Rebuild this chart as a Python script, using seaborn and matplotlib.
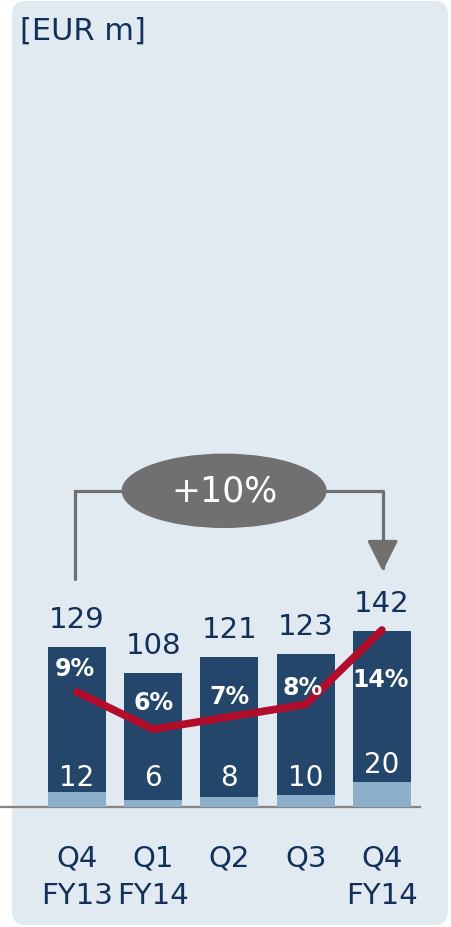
import numpy as np
import pandas as pd
import matplotlib
matplotlib.use('Agg')
import matplotlib.pyplot as plt
import seaborn as sns
from matplotlib.patches import FancyBboxPatch, Ellipse
from matplotlib.transforms import IdentityTransform

# --- DATA ---
quarters = ['Q4\nFY13', 'Q1\nFY14', 'Q2', 'Q3', 'Q4\nFY14']
totals = [129, 108, 121, 123, 142]
segment = [12, 6, 8, 10, 20]
margins = [9, 6, 7, 8, 14]
growth_label = '+10%'
unit_label = '[EUR m]'

df = pd.DataFrame({'quarter': quarters, 'total': totals,
                   'segment': segment, 'margin': margins})

# --- STYLE ---
sns.set_style('white')
plt.rcParams['font.family'] = ['DejaVu Sans']
NAVY_TXT = '#12305A'
NAVY_BAR = '#25466B'
LIGHT_BAR = '#8CB0CC'
PANEL = '#E1E9F1'
RED = '#B30D2C'
GREY = '#707070'

W, H, DPI = 452, 928, 100
fig = plt.figure(figsize=(W / DPI, H / DPI), dpi=DPI, facecolor='white')

# background panel (pixel coords)
panel = FancyBboxPatch((12, 2), 436, 924, boxstyle='round,pad=0,rounding_size=14',
                       transform=IdentityTransform(), facecolor=PANEL,
                       edgecolor='none', zorder=-10)
fig.add_artist(panel)

# axes: x from 0..420 px, y from 120..926 px
ax = fig.add_axes([0 / W, 120 / H, 420 / W, 806 / H])
ax.patch.set_visible(False)

sns.barplot(data=df, x='quarter', y='total', color=NAVY_BAR, width=0.76,
            saturation=1, linewidth=0, edgecolor='none', ax=ax, zorder=2)
sns.barplot(data=df, x='quarter', y='segment', color=LIGHT_BAR, width=0.76,
            saturation=1, linewidth=0, edgecolor='none', ax=ax, zorder=3)
ax.set_xlim(-1.01, 4.5)
ax.set_ylim(0, 650)

for sp in ['top', 'left', 'right']:
    ax.spines[sp].set_visible(False)
ax.spines['bottom'].set_color('#858585')
ax.spines['bottom'].set_linewidth(1.6)
ax.set_yticks([])
ax.set_xlabel('')
ax.set_ylabel('')
ax.tick_params(axis='x', length=0, pad=26, labelsize=21, labelcolor=NAVY_TXT)
for lab in ax.get_xticklabels():
    lab.set_linespacing(1.45)

# value labels
inner_offsets = [30, 30, 30, 30, 43]
for i, (t, s) in enumerate(zip(totals, segment)):
    ax.annotate(str(t), (i, t), xytext=(0, 14), textcoords='offset pixels',
                ha='center', va='bottom', fontsize=21, color=NAVY_TXT)
    ax.annotate(str(s), (i, 0), xytext=(0, inner_offsets[i]),
                textcoords='offset pixels', ha='center', va='center',
                fontsize=20, color='white', zorder=5)

# margin line on twin axis
ax2 = ax.twinx()
ax2.patch.set_visible(False)
sns.lineplot(x=np.arange(len(margins)), y=margins, ax=ax2, color=RED,
             linewidth=5.5, solid_capstyle='round', solid_joinstyle='round',
             zorder=4)
ax2.set_ylim(-0.27, 64.7)
ax2.set_xlim(ax.get_xlim())
ax2.axis('off')

pct_offsets = [(-2, 24), (0, 27), (0, 21), (-3, 17), (-1, -49)]
for i, (m, off) in enumerate(zip(margins, pct_offsets)):
    ax2.annotate(f'{m}%', (i, m), xytext=off, textcoords='offset pixels',
                 ha='center', va='center', fontsize=17, fontweight='bold',
                 color='white', zorder=6)

# growth bubble and connectors
ell = Ellipse((1.93, 255), 2.69, 60, facecolor=GREY, edgecolor='none',
              clip_on=False, zorder=6)
ax.add_patch(ell)
ax.text(1.93, 255, growth_label, ha='center', va='center', fontsize=25,
        color='white', zorder=7)
ax.plot([-0.03, -0.03, 0.6], [184, 255, 255], color=GREY, lw=2.3,
        clip_on=False, zorder=5, solid_joinstyle='miter')
ax.annotate('', xy=(4.01, 190), xytext=(3.26, 255),
            arrowprops=dict(arrowstyle='-|>,head_width=0.95,head_length=1.9',
                            connectionstyle='angle,angleA=0,angleB=90,rad=0',
                            color=GREY, lw=2.3, shrinkA=0, shrinkB=0),
            zorder=5, annotation_clip=False)

fig.text(20 / W, 1 - 31 / H, unit_label, ha='left', va='center',
         fontsize=22, color=NAVY_TXT)

fig.savefig('out.png', dpi=DPI, facecolor='white')
